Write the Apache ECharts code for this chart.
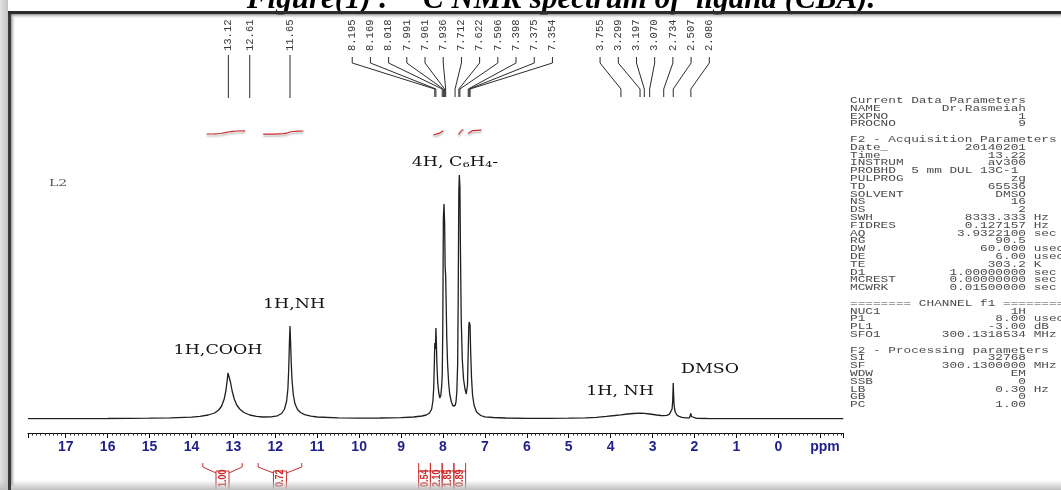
<!DOCTYPE html>
<html>
<head>
<meta charset="utf-8">
<title>1H NMR spectrum of ligand (CBA)</title>
<style>
  html, body { margin: 0; padding: 0; background: #ffffff; }
  #chart { width: 1061px; height: 490px; }
</style>
<script src="https://cdn.jsdelivr.net/npm/echarts@6/dist/echarts.min.js"></script>
</head>
<body>
<div id="chart"></div>
<script>
// 1H trace: [chemical shift (ppm), intensity]
const spectrum = [
  [17.9, 0.3], [17.0, 0.4], [16.0, 0.5], [15.0, 0.8], [14.5, 1.1], [14.0, 1.8],
  [13.8, 2.6], [13.6, 4.0], [13.45, 6.0], [13.35, 9.0], [13.28, 13], [13.22, 20],
  [13.18, 28], [13.15, 38], [13.13, 46], [13.12, 48], [13.10, 45], [13.07, 37],
  [13.03, 28], [12.98, 20], [12.92, 14], [12.85, 10], [12.75, 6.5], [12.61, 4.0],
  [12.45, 2.6], [12.30, 2.0], [12.10, 2.2], [11.95, 3.2], [11.85, 5.5], [11.78, 10],
  [11.73, 18], [11.70, 30], [11.68, 50], [11.665, 74], [11.65, 93], [11.635, 76],
  [11.62, 56], [11.60, 38], [11.57, 24], [11.53, 15], [11.47, 9.5], [11.40, 6.5],
  [11.30, 4.3], [11.15, 2.8], [11.00, 2.0], [10.50, 1.2], [10.00, 0.9], [9.50, 1.0],
  [9.00, 1.3], [8.70, 2.0], [8.50, 3.0], [8.40, 4.0], [8.32, 6], [8.27, 10],
  [8.24, 18], [8.22, 32], [8.205, 58], [8.195, 76], [8.185, 70], [8.175, 78],
  [8.169, 91], [8.16, 80], [8.145, 55], [8.125, 36], [8.10, 26], [8.075, 21],
  [8.05, 24], [8.03, 34], [8.018, 44], [8.005, 90], [7.991, 200], [7.976, 215],
  [7.961, 196], [7.948, 152], [7.936, 143], [7.925, 118], [7.91, 82], [7.89, 55],
  [7.865, 36], [7.84, 25], [7.80, 17], [7.76, 13], [7.735, 12], [7.712, 13.5],
  [7.69, 17], [7.67, 27], [7.65, 55], [7.637, 120], [7.622, 228], [7.61, 244],
  [7.596, 232], [7.583, 168], [7.565, 100], [7.54, 60], [7.51, 40], [7.475, 30],
  [7.445, 25], [7.43, 24], [7.415, 34], [7.398, 68], [7.385, 92], [7.375, 97],
  [7.364, 99], [7.354, 94], [7.34, 68], [7.32, 42], [7.295, 24], [7.26, 14],
  [7.20, 7], [7.10, 3.5], [7.00, 2.2], [6.80, 1.5], [6.50, 1.0], [6.00, 0.7],
  [5.50, 0.7], [5.00, 0.9], [4.60, 1.2], [4.34, 1.6], [4.10, 2.6], [3.90, 3.5],
  [3.755, 4.2], [3.60, 5.0], [3.45, 5.5], [3.30, 5.8], [3.197, 5.6], [3.07, 5.0],
  [2.90, 4.0], [2.80, 3.5], [2.734, 3.4], [2.66, 3.7], [2.60, 4.6], [2.56, 6.5],
  [2.535, 10], [2.52, 18], [2.512, 29], [2.507, 36], [2.50, 27], [2.49, 16],
  [2.475, 10], [2.455, 6.5], [2.42, 4.0], [2.37, 2.6], [2.30, 1.7], [2.20, 1.1],
  [2.12, 1.1], [2.10, 2.0], [2.086, 5.7], [2.075, 2.5], [2.05, 1.0], [1.95, 0.7],
  [1.70, 0.5], [1.30, 0.4], [1.00, 0.4], [0.00, 0.3], [-1.00, 0.3], [-1.55, 0.3]
];

// peak picks (ppm)
const singlePicks = ['13.12', '12.61', '11.65'];
const aromaticPicks = ['8.195', '8.169', '8.018', '7.991', '7.961', '7.936',
                       '7.712', '7.622', '7.596', '7.398', '7.375', '7.354'];
const aliphaticPicks = ['3.755', '3.299', '3.197', '3.070', '2.734', '2.507', '2.086'];

// integration regions (ppm) and their relative areas
const integralFrom = [13.73, 12.41, 8.58, 8.30, 8.02, 7.74];
const integralTo = [12.79, 11.37, 8.30, 8.02, 7.74, 7.46];
const integralValues = ['1.00', '0.72', '0.54', '2.10', '1.85', '0.89'];

// running integral traces: [ppm, level]
const integralCooh = [[13.64, 285.0], [13.45, 285.1], [13.30, 285.5], [13.20, 286.3],
                      [13.12, 287.0], [13.03, 287.7], [12.90, 288.0], [12.72, 288.2]];
const integralNh = [[12.29, 284.8], [12.00, 284.9], [11.80, 285.3], [11.70, 286.2],
                    [11.65, 287.0], [11.58, 287.5], [11.45, 287.8], [11.33, 288.0]];
const integralAr1 = [[8.23, 284.0], [8.17, 284.8], [8.10, 285.6], [8.02, 287.6], [7.99, 288.2]];
const integralAr2 = [[7.63, 284.5], [7.60, 286.5], [7.56, 288.5], [7.51, 289.2]];
const integralAr3 = [[7.40, 285.5], [7.36, 287.0], [7.30, 288.3], [7.20, 288.6], [7.08, 288.8]];

// acquisition / processing parameters: [name, value, unit]
const paramRows = [
  ['Current Data Parameters'],
  ['NAME', 'Dr.Rasmeiah'], ['EXPNO', '1'], ['PROCNO', '9'],
  [''],
  ['F2 - Acquisition Parameters'],
  ['Date_', '20140201'], ['Time', '13.22'], ['INSTRUM', 'av300'],
  ['PROBHD', '5 mm DUL 13C-1 '], ['PULPROG', 'zg'], ['TD', '65536'],
  ['SOLVENT', 'DMSO'], ['NS', '16'], ['DS', '2'],
  ['SWH', '8333.333', 'Hz'], ['FIDRES', '0.127157', 'Hz'], ['AQ', '3.9322100', 'sec'],
  ['RG', '90.5'], ['DW', '60.000', 'usec'], ['DE', '6.00', 'usec'], ['TE', '303.2', 'K'],
  ['D1', '1.00000000', 'sec'], ['MCREST', '0.00000000', 'sec'], ['MCWRK', '0.01500000', 'sec'],
  [''],
  ['======== CHANNEL f1 ========'],
  ['NUC1', '1H'], ['P1', '8.00', 'usec'], ['PL1', '-3.00', 'dB'], ['SFO1', '300.1318534', 'MHz'],
  [''],
  ['F2 - Processing parameters'],
  ['SI', '32768'], ['SF', '300.1300000', 'MHz'], ['WDW', 'EM'], ['SSB', '0'],
  ['LB', '0.30', 'Hz'], ['GB', '0'], ['PC', '1.00']
];

const INK = '#1f1f1f';
const RED = '#cc2b2b';
const NAVY = '#1f1f8c';

function paramLine(row) {
  if (row.length < 2) return row[0];
  let s = row[0].padEnd(23 - row[1].length, ' ') + row[1];
  if (row[2]) s += ' ' + row[2];
  return s;
}

// lay out the pick labels: a lone pick sits over its peak, a group fans out
const pickGroups = singlePicks.map(p => [p]).concat([aromaticPicks, aliphaticPicks]);
const pickItems = [];
pickGroups.forEach(group => {
  const ppms = group.map(Number);
  const centre = ppms.reduce((a, b) => a + b, 0) / ppms.length;
  group.forEach((txt, i) => {
    pickItems.push({ text: txt, ppm: ppms[i], centre: centre,
                     offset: i - (group.length - 1) / 2, fan: group.length > 1 });
  });
});

function renderPick(params, api) {
  const it = pickItems[params.dataIndex];
  const xp = api.coord([it.ppm, 0])[0];
  const xc = api.coord([it.centre, 0])[0];
  const xs = it.fan ? xc + it.offset * 18.2 : xp;
  const pts = it.fan ? [[xs, 57], [xs, 63], [xp, 89], [xp, 97]] : [[xp, 55], [xp, 98]];
  return {
    type: 'group',
    children: [
      { type: 'polyline', shape: { points: pts },
        style: { stroke: '#2b2b2b', lineWidth: 1, fill: 'none' } },
      { type: 'text', x: xs, y: 51, rotation: Math.PI / 2,
        style: { text: it.text, fontFamily: 'Liberation Mono', fontSize: 10.5,
                 fill: '#3a3a3a', align: 'left', verticalAlign: 'middle' } }
    ]
  };
}

function renderIntegral(params, api) {
  const i = params.dataIndex;
  const x1 = api.coord([integralFrom[i], 0])[0];
  const x2 = api.coord([integralTo[i], 0])[0];
  const xc = (x1 + x2) / 2;
  const hw = Math.min(6.5, (x2 - x1) / 2);
  const line = { stroke: RED, lineWidth: 1, fill: 'none' };
  return {
    type: 'group',
    children: [
      { type: 'polyline', shape: { points: [[x1, 463], [x1, 467], [xc - hw, 473]] }, style: line },
      { type: 'polyline', shape: { points: [[x2, 463], [x2, 467], [xc + hw, 473]] }, style: line },
      { type: 'rect', shape: { x: xc - hw, y: 471, width: hw * 2, height: 20 }, style: line },
      { type: 'text', x: xc, y: 487, rotation: Math.PI / 2, scaleY: 1.3,
        style: { text: integralValues[i], fontFamily: 'Liberation Sans', fontWeight: 'bold',
                 fontSize: 9, fill: RED, align: 'left', verticalAlign: 'middle' } }
    ]
  };
}

function integralSeries(data) {
  return {
    type: 'line', data: data, showSymbol: false, symbol: 'none', silent: true,
    lineStyle: { color: RED, width: 1.2, shadowColor: 'rgba(0,0,0,0.35)',
                 shadowOffsetY: 2, shadowBlur: 2 },
    z: 3
  };
}

function note(text, x, y, extra) {
  return Object.assign({
    type: 'text', x: x, y: y, scaleX: 1.45, z: 10,
    style: { text: text, fontFamily: 'DejaVu Serif', fontSize: 12, fill: '#111',
             align: 'center', verticalAlign: 'middle' }
  }, extra || {});
}

const chart = echarts.init(document.getElementById('chart'), null, { renderer: 'canvas' });

chart.setOption({
  animation: false,
  backgroundColor: '#ffffff',
  grid: { left: 28, right: 217.7, top: 100, bottom: 71, containLabel: false, outerBoundsMode: 'none' },
  xAxis: {
    type: 'value', inverse: true, min: -1.55, max: 17.9, splitNumber: 20, offset: 14,
    axisLine: { show: true, onZero: false, lineStyle: { color: '#111', width: 1 } },
    axisTick: { show: true, length: 5, lineStyle: { color: '#111', width: 1 } },
    minorTick: { show: true, splitNumber: 10, length: 2.5, lineStyle: { color: '#222', width: 1 } },
    splitLine: { show: false }, minorSplitLine: { show: false },
    axisLabel: {
      margin: 7, color: NAVY, fontWeight: 'bold', fontSize: 14, fontFamily: 'Liberation Sans',
      formatter: v => (v > -0.5 && Math.abs(v - Math.round(v)) < 1e-6 ? String(Math.round(v)) : '')
    }
  },
  yAxis: { type: 'value', min: 0, max: 319, show: false },
  series: [
    {
      name: '1H', type: 'line', data: spectrum, showSymbol: false, symbol: 'none', silent: true,
      lineStyle: { color: INK, width: 1.3 }, z: 4
    },
    integralSeries(integralCooh),
    integralSeries(integralNh),
    integralSeries(integralAr1),
    integralSeries(integralAr2),
    integralSeries(integralAr3),
    {
      type: 'custom', renderItem: renderPick, silent: true, z: 5,
      data: pickItems.map(it => [it.ppm, 0])
    },
    {
      type: 'custom', renderItem: renderIntegral, silent: true, z: 5,
      data: integralFrom.map((f, i) => [f, integralTo[i]])
    }
  ],
  graphic: { elements: [
    // figure caption, cropped by the frame top
    { type: 'text', x: 561, y: 0, z: 1,
      style: { text: 'Figure(1) :  \u00b9\u00b3C NMR spectrum of  ligand (CBA).',
               fontFamily: 'Liberation Serif', fontStyle: 'italic', fontWeight: 'bold',
               fontSize: 31, fill: '#000', align: 'center', verticalAlign: 'middle' } },

    // spectrum annotations
    note('1H,COOH', 218, 351),
    note('1H,NH', 294, 305),
    note('4H, C{s|6}H{s|4}-', 455, 163, {
      style: { text: '4H, C{s|6}H{s|4}-', fontFamily: 'DejaVu Serif', fontSize: 12, fill: '#111',
               align: 'center', verticalAlign: 'middle',
               rich: { s: { fontFamily: 'DejaVu Serif', fontSize: 8, fill: '#111', verticalAlign: 'bottom' } } }
    }),
    note('DMSO', 710, 370),
    note('1H, NH', 620, 392),
    note('L2', 58, 183, { scaleX: 1.4,
      style: { text: 'L2', fontFamily: 'DejaVu Serif', fontSize: 10, fill: '#555',
               align: 'center', verticalAlign: 'middle' } }),
    { type: 'text', x: 825, y: 447, z: 10,
      style: { text: 'ppm', fontFamily: 'Liberation Sans', fontWeight: 'bold', fontSize: 14,
               fill: NAVY, align: 'center', verticalAlign: 'middle' } },

    // parameter listing
    { type: 'text', x: 850, y: 96.9, scaleX: 1.5, z: 10,
      style: { text: paramRows.map(paramLine).join('\n'), fontFamily: 'Liberation Mono',
               fontSize: 8.5, lineHeight: 7.8, fill: '#4a4a4a', align: 'left', verticalAlign: 'top' } },

    // frame
    { type: 'rect', z: 20, shape: { x: 0, y: 0, width: 8, height: 490 },
      style: { fill: new echarts.graphic.LinearGradient(0, 0, 1, 0,
        [{ offset: 0, color: '#e2e2e2' }, { offset: 1, color: '#c2c2c2' }]) } },
    { type: 'rect', z: 21, shape: { x: 11, y: 14, width: 5, height: 472 },
      style: { fill: new echarts.graphic.LinearGradient(0, 0, 1, 0,
        [{ offset: 0, color: 'rgba(120,120,120,0.8)' }, { offset: 1, color: 'rgba(255,255,255,0)' }]) } },
    { type: 'rect', z: 21, shape: { x: 11, y: 14, width: 1050, height: 5 },
      style: { fill: new echarts.graphic.LinearGradient(0, 0, 0, 1,
        [{ offset: 0, color: 'rgba(120,120,120,0.8)' }, { offset: 1, color: 'rgba(255,255,255,0)' }]) } },
    { type: 'rect', z: 22, shape: { x: 8, y: 11, width: 3, height: 479 }, style: { fill: '#3a3a3a' } },
    { type: 'rect', z: 22, shape: { x: 8, y: 11, width: 1053, height: 3 }, style: { fill: '#2c2c2c' } },
    { type: 'rect', z: 21, shape: { x: 0, y: 480, width: 1061, height: 10 },
      style: { fill: new echarts.graphic.LinearGradient(0, 0, 0, 1,
        [{ offset: 0, color: 'rgba(200,200,200,0)' }, { offset: 1, color: '#bdbdbd' }]) } }
  ] }
});
</script>
</body>
</html>
